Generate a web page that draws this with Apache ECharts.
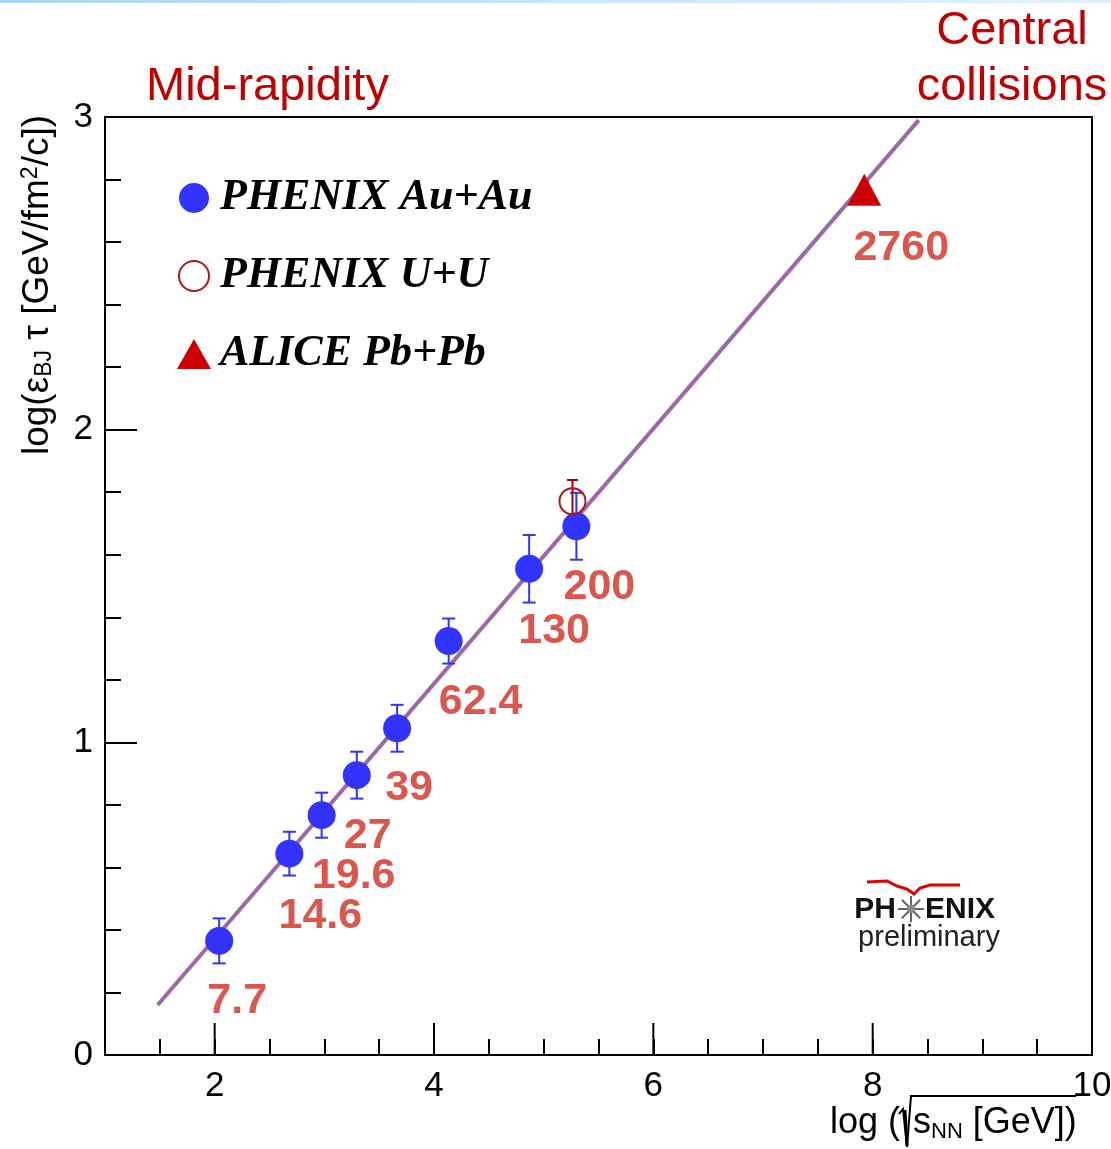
<!DOCTYPE html>
<html>
<head>
<meta charset="utf-8">
<script src="https://cdn.jsdelivr.net/npm/echarts@6/dist/echarts.min.js"></script>
<style>
  html, body { margin: 0; padding: 0; background: #ffffff; }
  #chart { width: 1111px; height: 1149px; }
</style>
</head>
<body>
<div id="chart"></div>
<script>
// Bjorken energy density x formation time vs. collision energy (central, mid-rapidity)
// Beam energies sqrt(s_NN) in GeV; x position is log(sqrt(s_NN))
const auauEnergies = [7.7, 14.6, 19.6, 27, 39, 62.4, 130, 200];
const auauValues   = [0.365, 0.644, 0.767, 0.895, 1.045, 1.324, 1.555, 1.691];
const auauErrors   = [0.072, 0.070, 0.072, 0.075, 0.075, 0.072, 0.108, 0.107];

const uuEnergies = [193];
const uuValues   = [1.771];
const uuErrors   = [0.068];

const pbpbEnergies = [2760];
const pbpbValues   = [2.767];

// straight-line fit in log-log space (end points)
const fitLine = [[1.48, 0.16], [8.42, 2.99]];

// long tick marks on the x axis
const xMajorTicks = [2, 4, 6, 8];

// ---- layout / styling ----
const auauLabelOffsets = [[18, 60], [31, 62], [32, 61], [11, 61], [12, 60], [32, 61], [25, 62], [23, 61]];
const pbpbLabelOffset = [37, 58];

const BLUE = '#3333ff';
const LABEL_RED = '#d9574d';
const TITLE_RED = '#c00000';
const TICK_FONT = "'Liberation Sans Narrow', 'Liberation Sans', Arial, sans-serif";
const SANS = "'Liberation Sans', Arial, sans-serif";
const SERIF = "'Liberation Serif', 'Times New Roman', serif";

const energyLabel = {
  show: true,
  position: 'inside',
  color: LABEL_RED,
  opacity: 1,
  fontFamily: SANS,
  fontWeight: 'bold',
  fontSize: 43
};

function errorBars(xs, ys, errs, color, cap) {
  return {
    type: 'custom',
    silent: true,
    z: 3,
    clip: false,
    data: xs.map((x, i) => [x, ys[i] - errs[i], ys[i] + errs[i]]),
    encode: { x: 0, y: [1, 2] },
    renderItem(params, api) {
      const lo = api.coord([api.value(0), api.value(1)]);
      const hi = api.coord([api.value(0), api.value(2)]);
      const st = { stroke: color, lineWidth: 2 };
      return {
        type: 'group',
        children: [
          { type: 'line', shape: { x1: lo[0], y1: lo[1], x2: hi[0], y2: hi[1] }, style: st },
          { type: 'line', shape: { x1: lo[0] - cap / 2, y1: lo[1], x2: lo[0] + cap / 2, y2: lo[1] }, style: st },
          { type: 'line', shape: { x1: hi[0] - cap / 2, y1: hi[1], x2: hi[0] + cap / 2, y2: hi[1] }, style: st }
        ]
      };
    }
  };
}

// spokes of the star in the PHENIX logo
function logoStar(cx, cy, r) {
  const out = [];
  for (let k = 0; k < 8; k++) {
    const a = k * Math.PI / 4;
    out.push({
      type: 'line',
      shape: { x1: cx, y1: cy, x2: cx + r * Math.cos(a), y2: cy + r * Math.sin(a) },
      style: { stroke: '#666', lineWidth: 2 }
    });
  }
  out.push({ type: 'circle', shape: { cx: cx, cy: cy, r: 4 }, style: { fill: '#888' } });
  return out;
}

const chart = echarts.init(document.getElementById('chart'), null, { renderer: 'canvas' });

const option = {
  backgroundColor: '#ffffff',
  animation: false,
  grid: {
    left: 105, right: 19, top: 117, bottom: 94,
    containLabel: false,
    outerBoundsMode: 'none',
    show: true,
    borderColor: '#000',
    borderWidth: 2,
    backgroundColor: 'transparent'
  },
  legend: {
    data: ['PHENIX Au+Au', 'PHENIX U+U', 'ALICE Pb+Pb'],
    orient: 'vertical',
    left: 172,
    top: 171,
    itemWidth: 34,
    itemHeight: 30,
    itemGap: 34,
    selectedMode: false,
    textStyle: {
      fontFamily: SERIF,
      fontStyle: 'italic',
      fontWeight: 'bold',
      fontSize: 44,
      lineHeight: 44,
      color: '#000',
      padding: [0, 0, 0, 4]
    }
  },
  xAxis: {
    type: 'value',
    min: 1, max: 10, interval: 0.5,
    axisLine: { show: true, lineStyle: { color: '#000', width: 2 } },
    axisTick: { show: true, inside: true, length: 16, lineStyle: { color: '#000', width: 2 } },
    axisLabel: {
      margin: 14,
      color: '#000',
      fontFamily: TICK_FONT,
      fontSize: 35,
      formatter: v => (v % 2 === 0 ? String(v) : '')
    },
    splitLine: { show: false }
  },
  yAxis: {
    type: 'value',
    min: 0, max: 3, interval: 1,
    axisLine: { show: true, lineStyle: { color: '#000', width: 2 } },
    axisTick: { show: true, inside: true, length: 32, lineStyle: { color: '#000', width: 2 } },
    minorTick: { show: true, splitNumber: 5, length: 16, lineStyle: { color: '#000', width: 2 } },
    axisLabel: { margin: 12, color: '#000', fontFamily: TICK_FONT, fontSize: 35 },
    splitLine: { show: false },
    minorSplitLine: { show: false }
  },
  series: [
    {
      name: 'fit',
      type: 'line',
      data: fitLine,
      symbol: 'none',
      silent: true,
      z: 1,
      lineStyle: { color: '#9b6aa5', width: 4 }
    },
    {
      type: 'custom',
      silent: true,
      z: 2,
      clip: false,
      data: xMajorTicks.map(v => [v, 0]),
      renderItem(params, api) {
        const c = api.coord([api.value(0), 0]);
        return { type: 'line', shape: { x1: c[0], y1: c[1], x2: c[0], y2: c[1] - 32 }, style: { stroke: '#000', lineWidth: 2 } };
      }
    },
    errorBars(auauEnergies.map(Math.log), auauValues, auauErrors, BLUE, 13),
    errorBars(uuEnergies.map(Math.log), uuValues, uuErrors, '#a00000', 11),
    {
      name: 'PHENIX Au+Au',
      type: 'scatter',
      z: 4,
      symbol: 'circle',
      symbolSize: 28,
      itemStyle: { color: BLUE, opacity: 1 },
      data: auauEnergies.map((e, i) => ({
        value: [Math.log(e), auauValues[i]],
        label: Object.assign({}, energyLabel, { offset: auauLabelOffsets[i], formatter: String(e) })
      }))
    },
    {
      name: 'PHENIX U+U',
      type: 'scatter',
      z: 5,
      symbol: 'circle',
      symbolSize: 26,
      itemStyle: { color: 'rgba(0,0,0,0)', borderColor: '#b01515', borderWidth: 2, opacity: 1 },
      data: uuEnergies.map((e, i) => [Math.log(e), uuValues[i]])
    },
    {
      name: 'ALICE Pb+Pb',
      type: 'scatter',
      z: 5,
      symbol: 'triangle',
      symbolSize: [34, 32],
      itemStyle: { color: '#cc0000', opacity: 1 },
      data: pbpbEnergies.map((e, i) => ({
        value: [Math.log(e), pbpbValues[i]],
        label: Object.assign({}, energyLabel, { offset: pbpbLabelOffset, formatter: String(e) })
      }))
    }
  ],
  graphic: [
    // thin light-blue rule along the top edge
    {
      type: 'rect', left: 0, top: 0, z: 0,
      shape: { width: 1111, height: 3 },
      style: { fill: new echarts.graphic.LinearGradient(0, 0, 1, 0, [
        { offset: 0, color: '#a9d6f5' }, { offset: 1, color: '#e4f2fc' }
      ]) }
    },
    {
      type: 'text', x: 146, y: 87,
      style: { text: 'Mid-rapidity', fill: TITLE_RED, font: "47px 'Liberation Sans', Arial, sans-serif", textVerticalAlign: 'middle' }
    },
    {
      type: 'text', x: 1012, y: 31,
      style: { text: 'Central', fill: TITLE_RED, font: "47px 'Liberation Sans', Arial, sans-serif", textAlign: 'center', textVerticalAlign: 'middle' }
    },
    {
      type: 'text', x: 1012, y: 87,
      style: { text: 'collisions', fill: TITLE_RED, font: "47px 'Liberation Sans', Arial, sans-serif", textAlign: 'center', textVerticalAlign: 'middle' }
    },
    // y axis title
    {
      type: 'text', x: 38, y: 285, rotation: Math.PI / 2,
      style: {
        text: 'log(ε{sub|BJ} τ [GeV/fm{sup|2}/c])',
        fill: '#000',
        fontFamily: SANS,
        fontSize: 37,
        textAlign: 'center',
        textVerticalAlign: 'middle',
        rich: {
          sub: { fontFamily: SANS, fontSize: 23, fill: '#000', verticalAlign: 'bottom', lineHeight: 23, padding: [16, 0, 0, 0] },
          sup: { fontFamily: SANS, fontSize: 23, fill: '#000', verticalAlign: 'top', lineHeight: 23, padding: [0, 0, 14, 0] }
        }
      }
    },
    // x axis title with a drawn radical sign
    {
      type: 'text', x: 900, y: 1123,
      style: { text: 'log (', fill: '#000', fontFamily: SANS, fontSize: 36, textAlign: 'right', textVerticalAlign: 'middle' }
    },
    {
      type: 'text', x: 913, y: 1123,
      style: {
        text: 's{sub|NN} [GeV])',
        fill: '#000', fontFamily: SANS, fontSize: 36,
        textAlign: 'left', textVerticalAlign: 'middle',
        rich: { sub: { fontFamily: SANS, fontSize: 22, fill: '#000', verticalAlign: 'bottom', padding: [18, 0, 0, 0] } }
      }
    },
    {
      type: 'polyline',
      shape: { points: [[899, 1114], [903, 1109], [907, 1147], [911, 1096], [1076, 1096]] },
      style: { stroke: '#000', lineWidth: 2, fill: null }
    },
    {
      type: 'line',
      shape: { x1: 905, y1: 1110, x2: 907, y2: 1146 },
      style: { stroke: '#000', lineWidth: 3 }
    },
    // PHENIX preliminary logo
    {
      type: 'polyline',
      shape: { points: [[867, 882], [887, 881], [897, 886], [907, 889], [914, 894], [920, 888], [930, 885], [960, 885]] },
      style: { stroke: '#e00000', lineWidth: 3, fill: null }
    },
    ...logoStar(911, 909, 13),
    {
      type: 'text', x: 896, y: 910,
      style: { text: 'PH', fill: '#111', font: "bold 30px 'Liberation Sans', Arial, sans-serif", textAlign: 'right', textVerticalAlign: 'middle' }
    },
    {
      type: 'text', x: 925, y: 910,
      style: { text: 'ENIX', fill: '#111', font: "bold 30px 'Liberation Sans', Arial, sans-serif", textAlign: 'left', textVerticalAlign: 'middle' }
    },
    {
      type: 'text', x: 929, y: 938,
      style: { text: 'preliminary', fill: '#222', font: "29px 'Liberation Sans', Arial, sans-serif", textAlign: 'center', textVerticalAlign: 'middle' }
    }
  ]
};

chart.setOption(option);
</script>
</body>
</html>
